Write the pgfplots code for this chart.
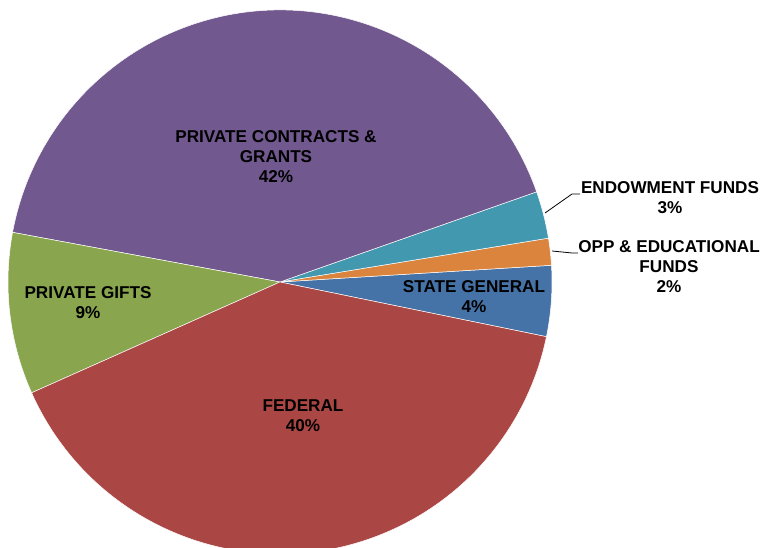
\documentclass[border=0pt]{standalone}
\usepackage{fontspec}
\setmainfont{Liberation Sans}
\usepackage{pgfplots}
\usepackage{pgfplotstable}
\pgfplotsset{compat=1.18}

\definecolor{cState}{HTML}{4572A7}
\definecolor{cOpp}{HTML}{DB843D}
\definecolor{cEndow}{HTML}{4198AF}
\definecolor{cPriv}{HTML}{71588F}
\definecolor{cGift}{HTML}{89A54E}
\definecolor{cFed}{HTML}{AA4643}

\tikzset{lbl/.style={font=\bfseries\fontsize{17.2}{20}\selectfont, align=center, text=black, inner sep=0pt}}

% slice shares in percent, counterclockwise from the state general slice
\pgfplotstableread{
value color
4.2  cState
1.6  cOpp
2.8  cEndow
41.7 cPriv
9.6  cGift
40.1 cFed
}\piedata

\begin{document}
\begin{tikzpicture}
\begin{axis}[
    hide axis,
    scale only axis,
    width=761bp, height=548bp,
    xmin=0, xmax=761,
    ymin=0, ymax=548,
    clip=true,
]
\def\acc{-11.6}
\pgfplotsforeachungrouped \i in {0,...,5}{%
  \pgfplotstablegetelem{\i}{value}\of\piedata \let\v\pgfplotsretval
  \pgfplotstablegetelem{\i}{color}\of\piedata \let\c\pgfplotsretval
  \pgfmathsetmacro\b{\acc+3.6*\v}%
  \edef\temp{\noexpand\fill[\c, draw=white, line width=0.5pt, line join=round]
    (axis cs:280,266) -- ++(\acc:272bp) arc[start angle=\acc, end angle=\b, radius=272bp] -- cycle;}%
  \temp
  \let\acc\b
}

% labels
\node[lbl] at (axis cs:276,391) {PRIVATE CONTRACTS \&\\GRANTS\\42\%};
\node[lbl] at (axis cs:88,245) {PRIVATE GIFTS\\9\%};
\node[lbl] at (axis cs:303,132) {FEDERAL\\40\%};
\node[lbl] at (axis cs:474,251.5) {STATE GENERAL\\4\%};
\node[lbl] at (axis cs:670,350.5) {ENDOWMENT FUNDS\\3\%};
\node[lbl] at (axis cs:669,281) {OPP \& EDUCATIONAL\\FUNDS\\2\%};

% leader lines
\draw[black, line width=0.8pt] (axis cs:545,335) -- (axis cs:572,354) -- (axis cs:580,354);
\draw[black, line width=0.8pt] (axis cs:552,297) -- (axis cs:572,295) -- (axis cs:578,295);
\end{axis}
\pgfresetboundingbox
\path (0,0) rectangle (761bp,548bp);
\end{tikzpicture}
\end{document}
